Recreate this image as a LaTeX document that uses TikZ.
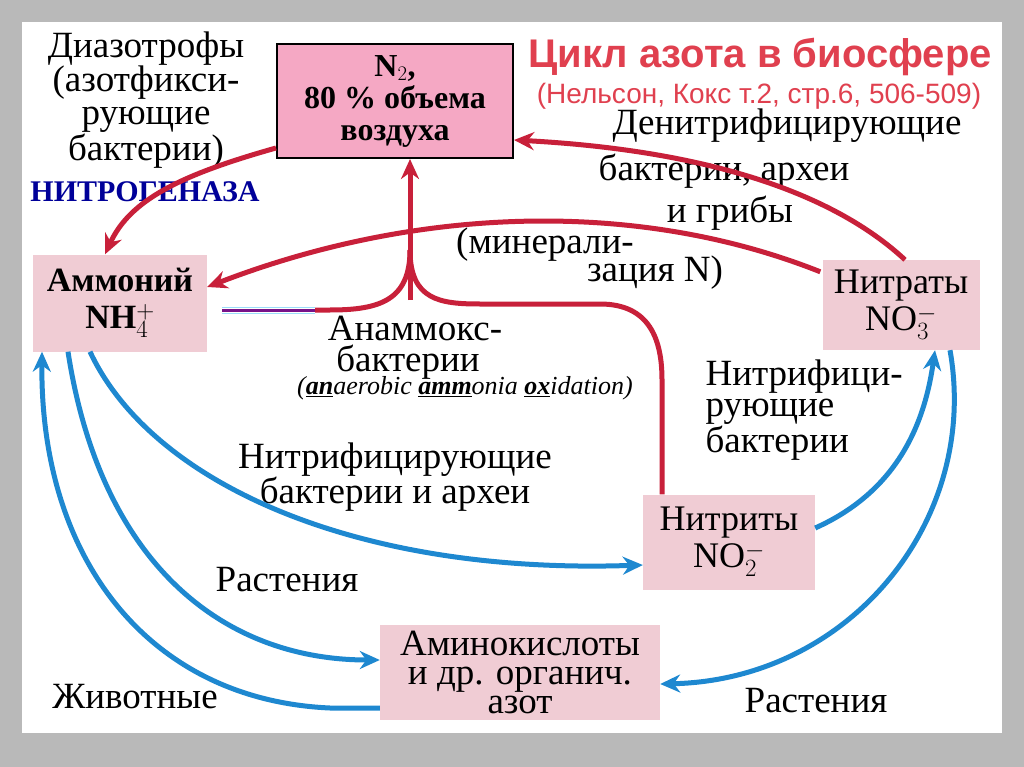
\documentclass[tikz,border=0pt]{standalone}
\usepackage{fontspec}
\setmainfont{Liberation Serif}
\newfontfamily\ttl{Liberation Sans}
\usetikzlibrary{arrows.meta}
\definecolor{rd}{HTML}{C8203A}
\definecolor{bl}{HTML}{1E88D0}
\definecolor{pk}{HTML}{F5A8C4}
\definecolor{lp}{HTML}{F0CCD4}
\definecolor{tr}{HTML}{E0404F}
\newcommand{\fs}[2]{\fontsize{#1}{#2}\selectfont}
\begin{document}
\begin{tikzpicture}[x=1pt,y=-1pt,
 box/.style={fill=lp,align=center,inner sep=0pt},
 lbl/.style={align=center,font=\fs{37}{31}},
 ra/.style={rd,line width=5pt,-{Stealth[length=20pt,width=18pt]}},
 ba/.style={bl,line width=5pt,-{Stealth[length=20pt,width=18pt]}}]
\useasboundingbox (0,0) rectangle (1024,767);
\fill[gray!55] (0,0) rectangle (1024,767);
\fill[white] (22,22) rectangle (1002,733);
% boxes
\node[box,fill=pk,draw=black,line width=2pt,minimum width=236pt,minimum height=114pt,font=\fs{32}{32}\bfseries] (n2) at (395,101) {N$_2$,\\80 \% объема\\воздуха};
\node[box,minimum width=174pt,minimum height=97pt,font=\fs{34}{37}\bfseries] (am) at (120,303) {Аммоний\\NH$_4^+$};
\node[box,minimum width=157pt,minimum height=90pt,font=\fs{36}{37}] (nt) at (901,305) {Нитраты\\NO$_3^-$};
\node[box,minimum width=172pt,minimum height=95pt,font=\fs{36}{37}] (ni) at (729,542) {Нитриты\\NO$_2^-$};
\node[box,minimum width=280pt,minimum height=95pt,font=\fs{37}{29}] (aa) at (520,672) {Аминокислоты\\и др. органич.\\азот};
% title
\node[tr,font=\fs{40}{42}\ttl\bfseries] (t1) at (760,57) {Цикл азота в биосфере};
\node[tr,font=\fs{28}{30}\ttl] (t2) at (759,96) {(Нельсон, Кокс т.2, стр.6, 506-509)};
% labels
\node[lbl,font=\fs{37}{33}] (dz) at (146,100) {Диазотрофы\\(азотфикси-\\рующие\\бактерии)};
\node[font=\fs{30}{32}\bfseries,text=blue!60!black] (ng) at (145,192) {НИТРОГЕНАЗА};
\node[lbl] (dn) at (787,126) {Денитрифицирующие};
\node[lbl] (dn2) at (724,171) {бактерии, археи};
\node[lbl] (dn3) at (730,213) {и грибы};
\node[lbl] (mn) at (545,245) {(минерали-};
\node[lbl] (mn2) at (655,273) {зация N)};
\node[lbl] (an) at (415,328) {Анаммокс-};
\node[lbl] (an2) at (408,362) {бактерии};
\node[font=\fs{26}{30}\itshape] (ax) at (465,388) {(\underline{\textbf{an}}aerobic \underline{\textbf{amm}}onia \underline{\textbf{ox}}idation)};
\node[lbl,align=left,font=\fs{37}{31},anchor=west] (nf) at (702,410) {Нитрифици-\\рующие\\бактерии};
\node[lbl,font=\fs{37}{30}] (nf2) at (395,477) {Нитрифицирующие\\бактерии и археи};
\node[lbl] (r1) at (287,580) {Растения};
\node[lbl] (zh) at (135,697) {Животные};
\node[lbl] (r2) at (816,701) {Растения};
% red arrows
\draw[ra] (n2.west|-0,148) .. controls (180,175) and (130,200) .. (am.north -| 105,0);
\draw[ra] (nt.north -| 905,0) .. controls (830,190) and (700,150) .. (n2.east |- 0,140);
\draw[ra] (nt.north west) ++(-2,12) coordinate (c1) .. controls (640,200) and (420,205) .. (am.east |- 0,287);
\coordinate (j) at (410,250);
\draw[ra] (410,300) -- (n2.south -| 410,0);
\draw[rd,line width=5pt] (j) .. controls (410,300) and (380,310) .. (330,310) -- (315,310);
\draw[rd!60!blue,line width=3pt] (315,310) -- (222,310);
\draw[cyan!40,line width=1pt] (222,307) -- (315,307) (222,313)--(315,313);
\draw[rd,line width=5pt] (j) .. controls (410,300) and (440,304) .. (480,304) -- (600,304) .. controls (650,304) and (662,340) .. (662,380) -- (ni.north -| 662,0);
% blue arrows
\draw[ba] (am.south -| 90,0) .. controls (150,480) and (350,575) .. (ni.west |- 0,565);
\draw[ba] (ni.east |- 0,528) .. controls (900,490) and (925,420) .. (nt.south -| 935,0);
\draw[ba] (nt.south -| 950,0) .. controls (980,520) and (850,680) .. (aa.east |- 0,684);
\draw[ba] (am.south -| 68,0) .. controls (100,560) and (220,660) .. (aa.west |- 0,660);
\draw[ba] (aa.west |- 0,708) -- (330,708) .. controls (150,700) and (40,560) .. (am.south -| 42,0);
\end{tikzpicture}
\end{document}
